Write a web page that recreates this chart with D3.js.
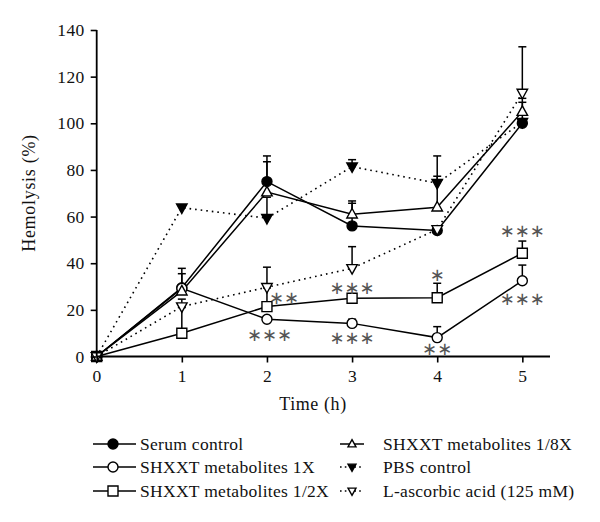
<!DOCTYPE html>
<html><head><meta charset="utf-8">
<script src="https://cdn.jsdelivr.net/npm/d3@7"></script>
<style>
html,body{margin:0;padding:0;background:#fff;}
svg{display:block;}
</style></head>
<body>
<svg id="chart" width="600" height="522"></svg>
<script>
const time = [0, 1, 2, 3, 4, 5];
const serumControl = [0, 29.5, 75, 56, 54, 100];
const serumErr = [0, 6, 11, 9.7, 0, 9];
const shx1X = [0, 29.2, 16, 14.2, 8.1, 32.5];
const shx1XErr = [0, 8.6, 0, 1.8, 4.7, 6.7];
const shxHalf = [0, 10, 21.4, 25, 25.2, 44.3];
const shxHalfErr = [0, 11, 8, 1.7, 6.2, 5.2];
const shxEighth = [0, 28, 70.5, 61, 64, 105];
const shxEighthErr = [0, 0, 13, 5.7, 22, 5.7];
const pbsControl = [0, 63.8, 59.3, 81.4, 74.3, 100.5];
const pbsErr = [0, 0, 9, 3, 3, 0];
const ascorbic = [0, 21.4, 29.7, 37.8, 54.5, 113];
const ascorbicErr = [0, 3.2, 8.6, 9.3, 0, 19.8];

const yTicks = [0, 20, 40, 60, 80, 100, 120, 140];
const xTicks = [0, 1, 2, 3, 4, 5];

const sigTime = [2.2, 2.03, 3, 3, 4, 4, 5, 5];
const sigValue = [25.4, 9.6, 29.7, 8.2, 35, 3.5, 54, 25];
const sigText = ["∗∗", "∗∗∗", "∗∗∗", "∗∗∗", "∗", "∗∗", "∗∗∗", "∗∗∗"];

const seriesNames = ["Serum control", "SHXXT metabolites 1X", "SHXXT metabolites 1/2X",
  "SHXXT metabolites 1/8X", "PBS control", "L-ascorbic acid (125 mM)"];

const series = [
  {name: seriesNames[4], v: pbsControl, e: pbsErr, shape: "triDown", fill: "#000", dotted: true, leg: 4},
  {name: seriesNames[0], v: serumControl, e: serumErr, shape: "circle", fill: "#000", dotted: false, leg: 0},
  {name: seriesNames[1], v: shx1X, e: shx1XErr, shape: "circle", fill: "#fff", dotted: false, leg: 1},
  {name: seriesNames[2], v: shxHalf, e: shxHalfErr, shape: "square", fill: "#fff", dotted: false, leg: 2},
  {name: seriesNames[3], v: shxEighth, e: shxEighthErr, shape: "triUp", fill: "#fff", dotted: false, leg: 3},
  {name: seriesNames[5], v: ascorbic, e: ascorbicErr, shape: "triDown", fill: "#fff", dotted: true, leg: 5}
];

const SERIF = "'Liberation Serif','Times New Roman',serif";
const svg = d3.select("#chart");
const x = d3.scaleLinear().domain([0, 5.325]).range([96.7, 550]);
const y = d3.scaleLinear().domain([0, 140]).range([356.5, 30]);

function shapePath(shape, s) {
  if (shape === "square") return `M${-s},${-s}H${s}V${s}H${-s}Z`;
  if (shape === "triUp") return `M0,${-s*1.15}L${s*1.05},${s*0.75}L${-s*1.05},${s*0.75}Z`;
  if (shape === "triDown") return `M0,${s*1.15}L${s*1.05},${-s*0.75}L${-s*1.05},${-s*0.75}Z`;
  return null;
}
function drawMarker(g, shape, fill, cx, cy, s) {
  if (shape === "circle") {
    g.append("circle").attr("cx", cx).attr("cy", cy).attr("r", s)
      .attr("fill", fill).attr("stroke", "#000").attr("stroke-width", 1.4);
  } else {
    g.append("path").attr("d", shapePath(shape, s))
      .attr("transform", `translate(${cx},${cy})`)
      .attr("fill", fill).attr("stroke", "#000").attr("stroke-width", 1.4);
  }
}
const DOTS = "1.6,4";

// lines
const line = d3.line().x((d, i) => x(time[i])).y(d => y(d));
const gLines = svg.append("g");
series.forEach(s => {
  gLines.append("path").datum(s.v).attr("d", line)
    .attr("fill", "none").attr("stroke", "#000")
    .attr("stroke-width", s.dotted ? 1.6 : 1.5)
    .attr("stroke-dasharray", s.dotted ? DOTS : null);
});

// error bars
const gErr = svg.append("g").attr("stroke", "#000").attr("stroke-width", 1.5);
series.forEach(s => {
  s.v.forEach((v, i) => {
    if (!s.e[i]) return;
    const cx = x(time[i]);
    gErr.append("line").attr("x1", cx).attr("x2", cx).attr("y1", y(v)).attr("y2", y(v + s.e[i]));
    gErr.append("line").attr("x1", cx - 4).attr("x2", cx + 4).attr("y1", y(v + s.e[i])).attr("y2", y(v + s.e[i]));
  });
});

// markers
const gMk = svg.append("g");
series.forEach(s => {
  s.v.forEach((v, i) => drawMarker(gMk, s.shape, s.fill, x(time[i]), y(v), 5));
});

// axes
const yAxis = d3.axisLeft(y).tickValues(yTicks).tickSize(6).tickPadding(6);
const gy = svg.append("g").attr("transform", `translate(${x(0)},0)`).call(yAxis);
const xAxis = d3.axisBottom(x).tickValues(xTicks).tickFormat(d3.format("d")).tickSize(6).tickPadding(7);
const gx = svg.append("g").attr("transform", `translate(0,${y(0)})`).call(xAxis);
[gx, gy].forEach(g => {
  g.attr("font-family", null).attr("font-size", null);
  g.select(".domain").attr("stroke", "#000").attr("stroke-width", 1.8);
  g.selectAll(".tick line").attr("stroke", "#000").attr("stroke-width", 1.6);
  g.selectAll(".tick text").style("font-family", SERIF).style("font-size", "17.5px")
    .style("letter-spacing", "0.4px").attr("fill", "#111");
});
gx.select(".domain").attr("d", `M${x(0)},0H${x.range()[1]}`);
gy.select(".domain").attr("d", `M0,${y(0)}V${y(140)}`);

svg.append("text").attr("x", 313).attr("y", 410).attr("text-anchor", "middle")
  .style("font-family", SERIF).style("font-size", "18px").style("letter-spacing", "0.6px")
  .attr("fill", "#111").text("Time (h)");
svg.append("text").attr("transform", "translate(35,193) rotate(-90)")
  .attr("text-anchor", "middle")
  .style("font-family", SERIF).style("font-size", "18px").style("letter-spacing", "0.7px")
  .attr("fill", "#111").text("Hemolysis (%)");

// significance
sigText.forEach((t, i) => {
  svg.append("text").attr("x", x(sigTime[i])).attr("y", y(sigValue[i]))
    .attr("text-anchor", "middle").attr("dominant-baseline", "central")
    .style("font-family", "'DejaVu Sans',sans-serif").style("font-size", "18px")
    .attr("fill", "#555").text(t);
});

// legend
const legCols = [{lx1: 93, lx2: 136, mx: 113, tx: 140, ms: 5},
                 {lx1: 340, lx2: 364, mx: 352, tx: 383, ms: 3.8}];
const legRows = [444, 467, 491];
series.forEach(s => {
  const i = s.leg;
  const col = legCols[Math.floor(i / 3)];
  const cy = legRows[i % 3];
  svg.append("line").attr("x1", col.lx1).attr("x2", col.lx2).attr("y1", cy).attr("y2", cy)
    .attr("stroke", "#000").attr("stroke-width", s.dotted ? 1.6 : 1.5)
    .attr("stroke-dasharray", s.dotted ? "1.6,3.2" : null);
  drawMarker(svg, s.shape, s.fill, col.mx, cy, col.ms);
  svg.append("text").attr("x", col.tx).attr("y", cy).attr("dy", "0.35em")
    .style("font-family", SERIF).style("font-size", "17.5px").style("letter-spacing", "0.3px")
    .attr("fill", "#111").text(s.name);
});
</script>
</body></html>
